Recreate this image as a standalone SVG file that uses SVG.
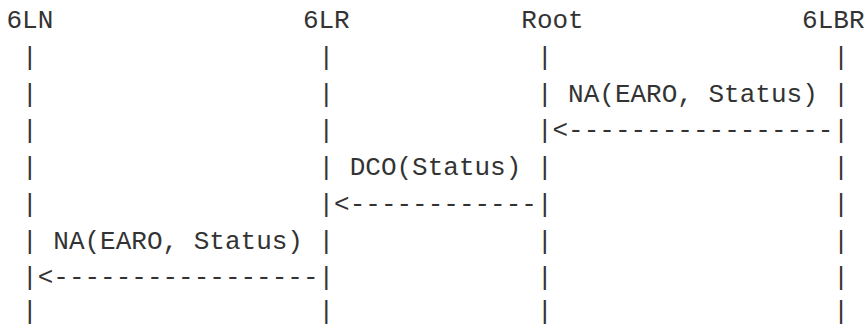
<svg xmlns="http://www.w3.org/2000/svg" width="866" height="325" viewBox="0 0 866 325">
<style>
text{font-family:"Liberation Mono","DejaVu Sans Mono",monospace;font-size:26px;fill:#333;white-space:pre}
</style>
<rect width="866" height="325" fill="#fff"/>
<g id="node-6LN">
<text x="6.5" y="28.3">6LN</text>
<text x="22.1" y="65">|</text><text x="22.1" y="101.7">|</text><text x="22.1" y="138.4">|</text><text x="22.1" y="175.1">|</text><text x="22.1" y="211.8">|</text><text x="22.1" y="248.5">|</text><text x="22.1" y="285.2">|</text><text x="22.1" y="319">|</text>
</g>
<g id="node-6LR">
<text x="302.9" y="28.3">6LR</text>
<text x="318.5" y="65">|</text><text x="318.5" y="101.7">|</text><text x="318.5" y="138.4">|</text><text x="318.5" y="175.1">|</text><text x="318.5" y="211.8">|</text><text x="318.5" y="248.5">|</text><text x="318.5" y="285.2">|</text><text x="318.5" y="319">|</text>
</g>
<g id="node-Root">
<text x="521.3" y="28.3">Root</text>
<text x="536.9" y="65">|</text><text x="536.9" y="101.7">|</text><text x="536.9" y="138.4">|</text><text x="536.9" y="175.1">|</text><text x="536.9" y="211.8">|</text><text x="536.9" y="248.5">|</text><text x="536.9" y="285.2">|</text><text x="536.9" y="319">|</text>
</g>
<g id="node-6LBR">
<text x="802.1" y="28.3">6LBR</text>
<text x="833.3" y="65">|</text><text x="833.3" y="101.7">|</text><text x="833.3" y="138.4">|</text><text x="833.3" y="175.1">|</text><text x="833.3" y="211.8">|</text><text x="833.3" y="248.5">|</text><text x="833.3" y="285.2">|</text><text x="833.3" y="319">|</text>
</g>
<g id="connectors">
<text x="568.1" y="101.7">NA(EARO, Status)</text>
<text x="552.5" y="138.4">&lt;-----------------</text>
<text x="349.7" y="175.1">DCO(Status)</text>
<text x="334.1" y="211.8">&lt;------------</text>
<text x="53.3" y="248.5">NA(EARO, Status)</text>
<text x="37.7" y="285.2">&lt;-----------------</text>
</g>
</svg>
